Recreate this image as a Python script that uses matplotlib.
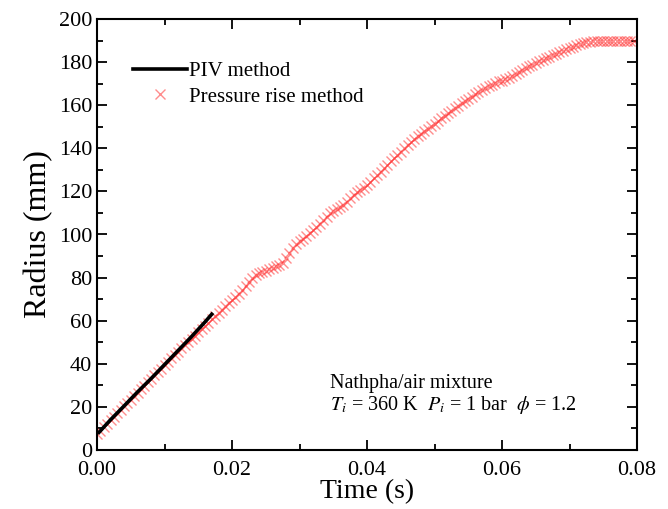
import numpy as np
import matplotlib
matplotlib.use("Agg")
import matplotlib.pyplot as plt
from matplotlib.ticker import MultipleLocator, FormatStrFormatter

plt.rcParams['font.family'] = ['Liberation Serif', 'DejaVu Serif']
plt.rcParams['mathtext.fontset'] = 'stix'

# PIV method (black line)
piv_t = [0.0003, 0.002, 0.004, 0.006, 0.008, 0.010, 0.012, 0.014, 0.016, 0.0170]
piv_r = [8.2, 14.0, 20.4, 26.9, 33.1, 39.6, 46.1, 52.6, 59.4, 63.0]

# Pressure rise method (red x markers), sampled every 0.0005 s
pr_dt = 0.0005
pr_r = [
    7.5, 9.0, 10.6, 12.2, 13.8, 15.4, 17.0, 18.6, 20.2, 21.8,
    23.4, 25.0, 26.6, 28.2, 29.8, 31.4, 33.0, 34.6, 36.2, 37.8,
    39.4, 41.0, 42.6, 44.1, 45.6, 47.1, 48.6, 50.1, 51.6, 53.1,
    54.6, 56.1, 57.6, 59.1, 60.6, 62.1, 63.6, 65.1, 66.6, 68.1,
    69.6, 71.1, 72.6, 74.2, 76.0, 78.0, 80.0, 81.2, 82.0, 82.6,
    83.2, 83.8, 84.5, 85.2, 86.0, 87.0, 89.0, 91.6, 93.8, 95.4,
    96.8, 98.0, 99.3, 100.6, 102.0, 103.5, 105.0, 106.6, 108.3, 110.0,
    111.0, 111.8, 112.6, 113.8, 115.2, 116.8, 118.3, 119.6, 120.7, 121.8,
    123.0, 124.4, 126.0, 127.6, 129.2, 130.8, 132.4, 134.0, 135.5, 137.0,
    138.5, 140.0, 141.4, 142.8, 144.2, 145.5, 146.6, 147.9, 149.1, 150.3,
    151.5, 152.7, 153.9, 155.1, 156.3, 157.5, 158.6, 159.7, 160.8, 161.9,
    163.0, 164.0, 165.0, 166.0, 166.9, 167.8, 168.7, 169.6, 170.3, 171.0,
    171.4, 172.0, 172.8, 173.7, 174.6, 175.5, 176.4, 177.2, 178.0, 178.8,
    179.6, 180.4, 181.1, 181.8, 182.5, 183.2, 183.9, 184.6, 185.3, 186.0,
    186.6, 187.2, 187.8, 188.3, 188.8, 189.2, 189.5, 189.7, 189.8, 189.9,
    190.0, 190.0, 189.9, 190.0, 190.0, 189.9, 190.0, 190.0, 190.0, 189.9,
]
pr_t = [i * pr_dt for i in range(len(pr_r))]

x_ticks = [0.00, 0.02, 0.04, 0.06, 0.08]
y_ticks = [0, 20, 40, 60, 80, 100, 120, 140, 160, 180, 200]

fig = plt.figure(figsize=(6.68, 5.09), dpi=100)
ax = fig.add_axes([97/668, 59/509, 540/668, 431/509])

ax.plot(pr_t, pr_r, linestyle='none', marker='x', markersize=6.5, markeredgewidth=1.0,
        color='#ff3030', alpha=0.55, label='Pressure rise method', zorder=2)
ax.plot(piv_t, piv_r, color='black', linewidth=2.6, label='PIV method', zorder=3)

ax.set_xlim(0, 0.08)
ax.set_ylim(0, 200)
ax.set_xticks(x_ticks)
ax.set_yticks(y_ticks)
ax.xaxis.set_major_formatter(FormatStrFormatter('%.2f'))
ax.xaxis.set_minor_locator(MultipleLocator(0.01))
ax.yaxis.set_minor_locator(MultipleLocator(10))
ax.tick_params(which='both', direction='in', top=True, right=True, width=1.3, labelsize=16)
ax.tick_params(axis='x', pad=8)
ax.tick_params(which='major', length=7)
ax.tick_params(which='minor', length=4)
for s in ax.spines.values():
    s.set_linewidth(1.5)

ax.set_xlabel('Time (s)', fontsize=20, labelpad=-1)
ax.set_ylabel('Radius (mm)', fontsize=23, labelpad=4)

handles, labels = ax.get_legend_handles_labels()
leg = ax.legend(handles[::-1], labels[::-1], loc='upper left', bbox_to_anchor=(0.066, 0.902),
                frameon=False, fontsize=15, handlelength=2.6, handletextpad=0.1,
                labelspacing=0.3, borderpad=0, borderaxespad=0)

ax.text(0.4315, 0.144, 'Nathpha/air mixture', transform=ax.transAxes, fontsize=14.5,
        va='baseline', ha='left')
ax.text(0.4315, 0.093, r'$T_i$ = 360 K  $P_i$ = 1 bar  $\phi$ = 1.2', transform=ax.transAxes,
        fontsize=14.5, va='baseline', ha='left')

fig.savefig('out.png', dpi=100)
